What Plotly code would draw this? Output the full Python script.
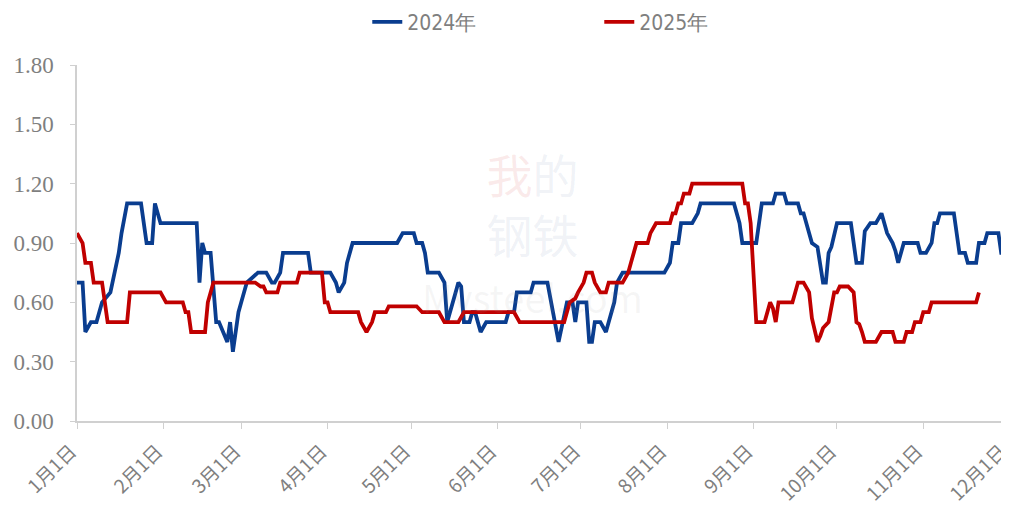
import pandas as pd
import plotly.graph_objects as go

# x 轴按同一年份的"第几天"对齐（1月1日 = 0）
BASE = pd.Timestamp("2025-01-01")

days_2024 = [0, 2, 3, 5, 7, 9, 12, 15, 16, 18, 23, 25, 27, 28, 30, 43, 44, 45, 46, 48,
             50, 51, 54, 55, 56, 58, 59, 60, 61, 65, 68, 70, 71, 73, 74, 83, 84, 91, 92, 93,
             94, 96, 97, 99, 115, 117, 121, 122, 124, 125, 126, 130, 132, 133, 136, 137, 138, 139, 141, 142,
             143, 145, 147, 154, 155, 157, 158, 163, 164, 169, 173, 176, 178, 179, 180, 183, 184, 185, 186, 188,
             190, 191, 192, 193, 194, 196, 211, 213, 214, 216, 217, 221, 223, 224, 236, 238, 239, 244, 245, 246,
             250, 251, 254, 255, 259, 260, 261, 262, 263, 264, 266, 267, 268, 269, 270, 271, 273, 278, 280, 282,
             283, 285, 287, 289, 290, 291, 293, 294, 295, 296, 297, 302, 303, 305, 307, 308, 309, 310, 315, 317,
             319, 320, 323, 324, 326, 327, 331, 332, 334, 336]
vals_2024 = [0.70, 0.70, 0.45, 0.50, 0.50, 0.60, 0.65, 0.85, 0.95, 1.10, 1.10, 0.90, 0.90, 1.10, 1.00, 1.00, 0.70, 0.90, 0.85, 0.85,
             0.50, 0.50, 0.40, 0.50, 0.35, 0.55, 0.60, 0.65, 0.70, 0.75, 0.75, 0.70, 0.70, 0.75, 0.85, 0.85, 0.75, 0.75, 0.72, 0.70,
             0.65, 0.70, 0.80, 0.90, 0.90, 0.95, 0.95, 0.90, 0.90, 0.85, 0.75, 0.75, 0.70, 0.50, 0.65, 0.70, 0.68, 0.50, 0.50, 0.55,
             0.55, 0.45, 0.50, 0.50, 0.55, 0.55, 0.65, 0.65, 0.70, 0.70, 0.40, 0.60, 0.60, 0.50, 0.60, 0.60, 0.40, 0.40, 0.50, 0.50,
             0.45, 0.50, 0.55, 0.60, 0.70, 0.75, 0.75, 0.80, 0.90, 0.90, 1.00, 1.00, 1.05, 1.10, 1.10, 1.00, 0.90, 0.90, 1.00, 1.10,
             1.10, 1.15, 1.15, 1.10, 1.10, 1.05, 1.05, 1.00, 0.95, 0.90, 0.88, 0.80, 0.70, 0.70, 0.85, 0.88, 1.00, 1.00, 0.80, 0.80,
             0.96, 1.00, 1.00, 1.05, 1.00, 0.95, 0.90, 0.86, 0.80, 0.86, 0.90, 0.90, 0.85, 0.85, 0.90, 1.00, 1.00, 1.05, 1.05, 0.85,
             0.85, 0.80, 0.80, 0.90, 0.90, 0.95, 0.95, 0.85, 0.85, 0.76]

days_2025 = [0, 2, 3, 5, 6, 9, 11, 18, 19, 30, 32, 38, 39, 40, 41, 46, 47, 49, 64, 66,
             67, 68, 72, 73, 79, 80, 88, 89, 90, 91, 101, 102, 104, 106, 107, 111, 112, 122, 124, 130,
             132, 137, 139, 157, 159, 175, 177, 179, 180, 182, 183, 185, 186, 188, 190, 191, 196, 197, 198, 199,
             201, 205, 206, 208, 213, 214, 215, 216, 217, 218, 220, 221, 239, 240, 241, 242, 244, 247, 249, 250,
             251, 252, 257, 258, 259, 261, 263, 264, 266, 267, 268, 270, 271, 272, 273, 274, 277, 279, 280, 281,
             282, 283, 287, 289, 293, 294, 297, 298, 300, 301, 303, 304, 306, 307, 323, 324]
vals_2025 = [0.95, 0.90, 0.80, 0.80, 0.70, 0.70, 0.50, 0.50, 0.65, 0.65, 0.60, 0.60, 0.55, 0.55, 0.45, 0.45, 0.60, 0.70, 0.70, 0.68,
             0.68, 0.65, 0.65, 0.70, 0.70, 0.75, 0.75, 0.60, 0.60, 0.55, 0.55, 0.50, 0.45, 0.50, 0.55, 0.55, 0.58, 0.58, 0.55, 0.55,
             0.50, 0.50, 0.55, 0.55, 0.50, 0.50, 0.60, 0.62, 0.65, 0.70, 0.75, 0.75, 0.70, 0.65, 0.65, 0.70, 0.70, 0.73, 0.75, 0.80,
             0.90, 0.90, 0.95, 1.00, 1.00, 1.05, 1.05, 1.10, 1.10, 1.15, 1.15, 1.20, 1.20, 1.10, 1.10, 1.00, 0.50, 0.50, 0.60, 0.57,
             0.50, 0.60, 0.60, 0.65, 0.70, 0.70, 0.65, 0.52, 0.40, 0.43, 0.47, 0.50, 0.57, 0.65, 0.65, 0.68, 0.68, 0.65, 0.50, 0.49,
             0.45, 0.40, 0.40, 0.45, 0.45, 0.40, 0.40, 0.45, 0.45, 0.50, 0.50, 0.55, 0.55, 0.60, 0.60, 0.65]

month_ticks = [f"{m}月1日" for m in range(1, 13)]

GRAY = "#7f7f7f"
AXIS = "#d0d0d0"


def to_dates(days):
    return [BASE + pd.Timedelta(days=d) for d in days]


fig = go.Figure()
fig.add_trace(go.Scatter(x=to_dates(days_2024), y=vals_2024, mode="lines", name="2024年",
                         line=dict(color="#0a3d8f", width=3.8)))
fig.add_trace(go.Scatter(x=to_dates(days_2025), y=vals_2025, mode="lines", name="2025年",
                         line=dict(color="#c00000", width=3.8)))

# 水印（我的钢铁 Mysteel.com），合成一个文本
fig.add_annotation(x=0.49, y=0.53, xref="paper", yref="paper", showarrow=False,
                   text="<span style='color:rgba(215,90,90,0.13)'>我</span>"
                        "<span style='color:rgba(110,130,175,0.11)'>的</span><br>"
                        "<span style='color:rgba(110,130,175,0.11)'>钢铁</span><br>"
                        "<span style='font-size:38px;color:rgba(150,150,150,0.09)'>Mysteel.com</span>",
                   font=dict(size=46, family="Noto Sans CJK SC"))

tick_dates = [BASE + pd.DateOffset(months=i) for i in range(12)]

# 页面 body 有 8px 外边距，左/上边距相应减掉
fig.update_layout(
    width=1009, height=506,
    margin=dict(l=69, r=10, t=57, b=93),
    plot_bgcolor="white", paper_bgcolor="white",
    showlegend=True,
    legend=dict(orientation="h", x=0.586, xanchor="center", y=0.972, yanchor="middle",
                yref="container", xref="container", entrywidth=187,
                font=dict(family="DejaVu Sans Condensed, Roboto", size=21, color=GRAY)),
    xaxis=dict(range=[tick_dates[0], tick_dates[-1] + pd.Timedelta(hours=2)],
               tickvals=tick_dates, ticktext=month_ticks, automargin=False,
               tickangle=-45, showgrid=False, showline=True, linecolor=AXIS, linewidth=1.5,
               ticks="outside", ticklen=6, tickcolor=AXIS,
               ticklabelstandoff=4, ticklabelshift=-6,
               tickfont=dict(family="Noto Sans CJK SC", size=19, color=GRAY)),
    yaxis=dict(range=[0, 1.8], tickvals=[0, 0.3, 0.6, 0.9, 1.2, 1.5, 1.8], tickformat=".2f",
               automargin=False, showgrid=False, showline=True, linecolor=AXIS, linewidth=1.5,
               ticks="outside", ticklen=5, tickcolor=AXIS, zeroline=False, ticklabelstandoff=12,
               tickfont=dict(family="Liberation Serif", size=23, color=GRAY)),
)

fig.write_html("out.html")
